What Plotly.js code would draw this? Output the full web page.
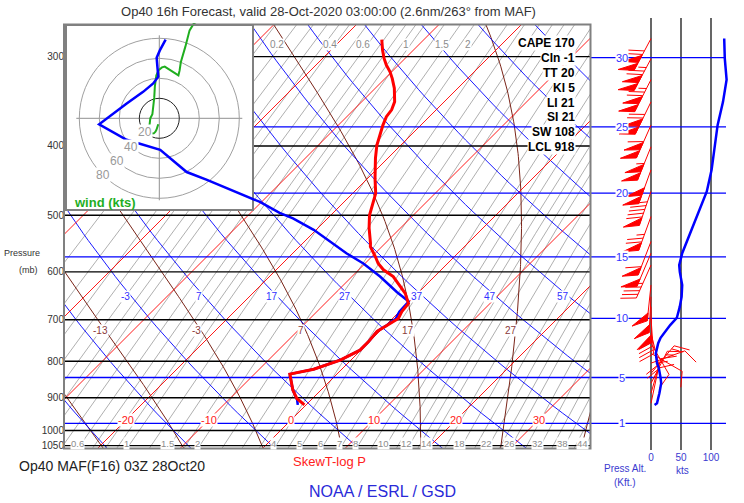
<!DOCTYPE html>
<html><head><meta charset="utf-8">
<script src="https://cdn.plot.ly/plotly-3.0.1.min.js"></script>
<style>html,body{margin:0;padding:0;background:#fff}</style>
</head><body>
<div id="chart" style="width:744px;height:503px"></div>
<script>
// ---------------- DATA ----------------
const tempP = [921,902,878,850,834,821,797,772,751,727,714,697,682,664,643,626,609,596,584,571,553,547,521,500,484,466,444,416,399,386,374,364,356,347,332,322,315,308,302,294,284];
const tempT = [-0.2,-1.9,-3.4,-4.9,-5.7,-3.4,-1.3,-0.1,-0.1,-0.3,0.2,0.7,0.3,0.1,-1.5,-3.2,-5.0,-7.0,-8.4,-9.6,-11.4,-11.8,-13.8,-15.3,-16.2,-17.2,-19.1,-21.5,-22.9,-23.8,-24.6,-25.2,-25.4,-26.0,-27.7,-29.1,-30.2,-31.5,-32.5,-33.7,-35.1];
const dewP = [921,906,878,850,834,821,797,772,751,727,714,697,682,660,640,609,584,565,544,524,505,496,479,466,446,435,405,392,373,349,336,327,320,310,301,294,284];
const dewT = [-1.0,-1.7,-3.4,-4.9,-5.7,-3.4,-1.3,-0.1,-0.1,-0.3,0.1,0.4,0.0,-0.1,-2.7,-6.6,-10.2,-13.5,-16.9,-20.3,-24.2,-26.5,-30.2,-33.7,-39.3,-42.7,-48.6,-53.9,-59.1,-58.3,-57.7,-57.5,-57.7,-59.0,-60.2,-60.7,-61.3];
const windP   = [283,302,323,347,374,401,432,463,502,544,565,587,600,626,650,671,696,712,731,742,755,767,780,792,805,818,832,844,859,872,887,901,916,921];
const windDir = [208,208,207,206,204,202,200,199,200,201,203,204,200,186,183,179,176,172,166,160,150,140,120,90,70,50,40,35,27,20,16,14,12,10];
const windSpd = [122,123,126,120,111,106,101,93,76,60,52,47,48,52,51,48,43,32,21,16,12,10,8,9,10,13,15,16,17,16,14,12,10,6];

const isotherms = [-70,-60,-50,-40,-30,-20,-10,0,10,20,30];
const isothermLabels = [-20,-10,0,10,20,30];
const dryAdiabats = [-23,-13,-3,7,17,27,37,47,57,67,77,87,97,107];
const dryLabels = [-3,7,17,27,37,47,57];
const moistAdiabats = [-23,-13,-3,7,17,27,37];
const moistLabels = [-13,-3,7,17,27];
const mixRatios = [0.1,0.15,0.2,0.25,0.3,0.35,0.4,0.5,0.6,0.7,0.8,0.9,1,1.25,1.5,1.75,2,2.5,3,3.5,4,4.5,5,6,7,8,9,10,11,12,13,14,16,18,20,22,24,26,29,32,35,38,41,44];
const mixLabelsBottom = [0.6,1,1.5,2,4,5,6,7,8,10,12,14,18,22,26,32,38,44];
const mixLabelsTop = [0.2,0.4,0.6,1,1.5,2];
const pressureTicks = [300,400,500,600,700,800,900,1000,1050];
const altKft = [1,5,10,15,20,25,30];
const indexLabels = ['CAPE 170','CIn -1','TT 20','KI 5','LI 21','SI 21','SW 108','LCL 918'];
const hodoRings = [20,40,60,80];
const speedTicks = [0,50,100];

// ---------------- GEOMETRY ----------------
const FONT = 'Arial, "Liberation Sans", sans-serif';
const W = 744, H = 503;
const PXLN = 310.5;
const DEGPX = 8.25;
const P_TOP = 1000*Math.exp((25-430.5)/PXLN);
const P_BOT = 1000*Math.exp((449-430.5)/PXLN);
const P4_TOP = 1000*Math.exp((18-430.5)/PXLN);
const P4_BOT = 1000*Math.exp((450-430.5)/PXLN);
const SKEW = PXLN/DEGPX, XOFF = -10.5/DEGPX;
const X_MIN = (65-291)/DEGPX, X_MAX = (590-291)/DEGPX;
const KTPX = 0.6;
function skewX(T,p){ return T + SKEW*Math.log(1000/p) + XOFF; }
function pxX(x){ return x/W; }
function pxY(y){ return 1 - y/H; }
function yPix(p){ return 430.5 + PXLN*Math.log(p/1000); }
function logspace(a,b,n){ const r=[]; for(let i=0;i<n;i++){ r.push(Math.exp(Math.log(a)+(Math.log(b)-Math.log(a))*i/(n-1))); } return r; }
function es(Tc){ return 6.112*Math.exp(17.67*Tc/(Tc+243.5)); }
function tdFromW(w,p){ const e = p*w/(622+w); const l=Math.log(e/6.112); return 243.5*l/(17.67-l); }
function moistSlope(Tk,p){
  const Rd=287.04, cp=1005.7, Lv=2.501e6, eps=0.622;
  const e=es(Tk-273.15), rs=eps*e/(p-e);
  return ((Rd*Tk+Lv*rs)/p)/(cp+(Lv*Lv*rs*eps)/(Rd*Tk*Tk));
}
function moistLine(tw){
  const up=[], down=[];
  let T=tw+273.15, p=1000;
  while(p>P_TOP-5){ up.push([p,T]); const k1=moistSlope(T,p), k2=moistSlope(T-k1,p-1); T-=0.5*(k1+k2); p-=1; }
  T=tw+273.15; p=1000;
  while(p<P_BOT+5){ down.push([p,T]); const k1=moistSlope(T,p), k2=moistSlope(T+k1,p+1); T+=0.5*(k1+k2); p+=1; }
  return down.reverse().concat(up.slice(1));
}
function altP(kft){ return 1013.25*Math.pow(1-6.8756e-6*kft*1000,5.2559); }
function lg(p){ return Math.log10(p); }

// ---------------- BACKGROUND LINES (xy) ----------------
const traces = [];
function addLines(list, fn, color, width){
  const t={x:[],y:[],type:'scatter',mode:'lines',xaxis:'x',yaxis:'y',hoverinfo:'skip',line:{color:color,width:width}};
  list.forEach(v=>{ fn(v).forEach(pt=>{t.x.push(pt[0]); t.y.push(pt[1]);}); t.x.push(null); t.y.push(null); });
  traces.push(t);
}
const pr = logspace(P_BOT, P_TOP, 60);
addLines(mixRatios, w=>pr.map(p=>[skewX(tdFromW(w,p),p),p]), '#9a9a9a', 0.8);
addLines(moistAdiabats, tw=>moistLine(tw).filter((d,i)=>i%4===0).map(d=>[skewX(d[1]-273.15,d[0]),d[0]]), '#7a2418', 1);
addLines(dryAdiabats, th=>pr.map(p=>[skewX((th+273.15)*Math.pow(p/1000,0.2857)-273.15,p),p]), '#0000ff', 0.9);
addLines(isotherms, T=>[P_BOT,P_TOP].map(p=>[skewX(T,p),p]), '#ff0000', 0.9);
const altMain = altKft.filter(k=>pressureTicks.every(p=>Math.abs(yPix(p)-yPix(altP(k)))>3));
addLines(altMain, k=>[[X_MIN,altP(k)],[X_MAX,altP(k)]], '#0000ff', 1.3);
addLines(pressureTicks, p=>[[X_MIN,p],[X_MAX,p]], '#000000', 1.4);

// ---------------- HODOGRAPH (x2y2) ----------------
const HC = {x:159.3, y:118.3};
const hodoU = windSpd.map((s,i)=>-s*Math.sin(windDir[i]*Math.PI/180));
const hodoV = windSpd.map((s,i)=>-s*Math.cos(windDir[i]*Math.PI/180));
traces.push({x:hodoU.slice().reverse(), y:hodoV.slice().reverse(), type:'scatter', mode:'lines', xaxis:'x2', yaxis:'y2', hoverinfo:'skip', line:{color:'#1fae1f', width:2}});

// ---------------- SOUNDING (x3y3) ----------------
traces.push({x:dewP.map((p,i)=>skewX(dewT[i],p)), y:dewP, type:'scatter', mode:'lines', xaxis:'x3', yaxis:'y3', hoverinfo:'skip', line:{color:'#0000ff', width:2.5}});
traces.push({x:tempP.map((p,i)=>skewX(tempT[i],p)), y:tempP, type:'scatter', mode:'lines', xaxis:'x3', yaxis:'y3', hoverinfo:'skip', line:{color:'#ff0000', width:3}});

// ---------------- WIND PANEL (x4y4) ----------------
const vlines = {x:[],y:[],type:'scatter',mode:'lines',xaxis:'x4',yaxis:'y4',hoverinfo:'skip',line:{color:'#000',width:1.2}};
speedTicks.forEach(s=>{ vlines.x.push(s,s,null); vlines.y.push(P4_BOT,P4_TOP,null); });
traces.push(vlines);
const hl4 = {x:[],y:[],type:'scatter',mode:'lines',xaxis:'x4',yaxis:'y4',hoverinfo:'skip',line:{color:'#0000ff',width:1.3}};
altKft.forEach(k=>{ hl4.x.push(-101.6,125,null); hl4.y.push(altP(k),altP(k),null); });
traces.push(hl4);
const barbL={x:[],y:[],type:'scatter',mode:'lines',xaxis:'x4',yaxis:'y4',hoverinfo:'skip',line:{color:'#ff0000',width:1}};
const barbF={x:[],y:[],type:'scatter',mode:'lines',fill:'toself',fillcolor:'#ff0000',xaxis:'x4',yaxis:'y4',hoverinfo:'skip',line:{color:'#ff0000',width:1}};
const STAFF=36, FEATH=16, ROT=65*Math.PI/180;
let lastY = -1e9;
windP.forEach((p,i)=>{
  const yp = yPix(p);
  if(yp-lastY < 9) return;
  lastY = yp;
  const d=windDir[i]*Math.PI/180;
  const sx=Math.sin(d), sy=-Math.cos(d);
  const fx=sx*Math.cos(ROT)-sy*Math.sin(ROT), fy=sx*Math.sin(ROT)+sy*Math.cos(ROT);
  const toData=(ox,oy)=>[ox/KTPX, p*Math.exp(oy/PXLN)];
  const push=(tr,pts)=>{ pts.forEach(q=>{const r=toData(q[0],q[1]); tr.x.push(r[0]); tr.y.push(r[1]);}); tr.x.push(null); tr.y.push(null); };
  push(barbL, [[0,0],[STAFF*sx,STAFF*sy]]);
  let rem = Math.round(windSpd[i]/5)*5, pos=STAFF;
  while(rem>=50){ const a=[pos*sx,pos*sy], b=[(pos-8)*sx,(pos-8)*sy], c=[a[0]+FEATH*fx,a[1]+FEATH*fy]; push(barbF,[a,c,b,a]); pos-=9; rem-=50; }
  while(rem>=10){ push(barbL,[[pos*sx,pos*sy],[pos*sx+FEATH*fx,pos*sy+FEATH*fy]]); pos-=4; rem-=10; }
  if(rem>=5){ if(pos===STAFF) pos-=4; push(barbL,[[pos*sx,pos*sy],[pos*sx+FEATH*0.5*fx,pos*sy+FEATH*0.5*fy]]); }
});
traces.push(barbL); traces.push(barbF);
traces.push({x:windSpd, y:windP, type:'scatter', mode:'lines', xaxis:'x4', yaxis:'y4', hoverinfo:'skip', line:{color:'#0000ff', width:2.5}});

// ---------------- ANNOTATIONS ----------------
const ann = [];
function A(o){ ann.push(Object.assign({showarrow:false, xanchor:'center', yanchor:'middle', font:{family:FONT,size:10,color:'#333'}}, o)); }
const pIso = 1000*Math.exp((420-430.5)/PXLN);
isothermLabels.forEach(T=>A({xref:'x',yref:'y',x:skewX(T,pIso),y:lg(pIso),text:String(T),bgcolor:'#fff',borderpad:0,font:{family:FONT,size:11,color:'#ff2020'}}));
const pDry = 1000*Math.exp((296-430.5)/PXLN);
dryLabels.forEach(th=>A({xref:'x',yref:'y',x:skewX((th+273.15)*Math.pow(pDry/1000,0.2857)-273.15,pDry),xshift:-5,y:lg(pDry),text:String(th),bgcolor:'#fff',borderpad:0,font:{family:FONT,size:10,color:'#3030ff'}}));
const pMoist = 1000*Math.exp((330.7-430.5)/PXLN);
moistLabels.forEach(tw=>{ const ml=moistLine(tw); let best=ml[0]; ml.forEach(d=>{ if(Math.abs(d[0]-pMoist)<Math.abs(best[0]-pMoist)) best=d; });
  A({xref:'x',yref:'y',x:skewX(best[1]-273.15,best[0]),xshift:-5,y:lg(pMoist),text:String(tw),bgcolor:'#fff',borderpad:0,font:{family:FONT,size:10,color:'#8b3a3a'}}); });
const pMixB = 1000*Math.exp((443-430.5)/PXLN), pMixT = 1000*Math.exp((45-430.5)/PXLN);
mixLabelsBottom.forEach(w=>A({xref:'x',yref:'y',x:skewX(tdFromW(w,pMixB),pMixB),xshift:-4,y:lg(pMixB),text:String(w),bgcolor:'#fff',borderpad:0,font:{family:FONT,size:9.5,color:'#8c8c8c'}}));
mixLabelsTop.forEach(w=>A({xref:'x',yref:'y',x:skewX(tdFromW(w,pMixT),pMixT),xshift:-4,y:lg(pMixT),text:String(w),bgcolor:'#fff',borderpad:0,font:{family:FONT,size:10,color:'#8c8c8c'}}));
indexLabels.forEach((t,i)=>A({xref:'paper',yref:'paper',x:pxX(576),xanchor:'right',y:pxY(42.7+i*14.95),text:'<b>'+t+'</b>',bgcolor:'#fff',borderpad:0,font:{family:FONT,size:12,color:'#000'}}));
altKft.forEach(k=>A({xref:'x4',yref:'y4',x:(621.7-651)/KTPX,y:lg(altP(k)),text:String(k),bgcolor:'#fff',borderpad:0,font:{family:FONT,size:11,color:'#3333ff'}}));
hodoRings.forEach(r=>A({xref:'x2',yref:'y2',x:-r*0.7071,y:-r*0.7071,text:String(r),bgcolor:'#fff',borderpad:0,font:{family:FONT,size:12,color:'#999'}}));
A({xref:'paper',yref:'paper',x:pxX(105),y:pxY(203),text:'<b>wind (kts)</b>',font:{family:FONT,size:13,color:'#1fae1f'}});
A({xref:'paper',yref:'paper',x:pxX(22),y:pxY(253),text:'Pressure',font:{family:FONT,size:9,color:'#333'}});
A({xref:'paper',yref:'paper',x:pxX(28),y:pxY(270),text:'(mb)',font:{family:FONT,size:9,color:'#333'}});
A({xref:'paper',yref:'paper',x:pxX(17),xanchor:'left',y:pxY(466),text:'Op40 MAF(F16) 03Z 28Oct20',font:{family:FONT,size:14,color:'#222'}});
A({xref:'paper',yref:'paper',x:pxX(329),y:pxY(461),text:'SkewT-log P',font:{family:FONT,size:13,color:'#ff2020'}});
A({xref:'paper',yref:'paper',x:pxX(382),y:pxY(491),text:'NOAA / ESRL / GSD',font:{family:FONT,size:16,color:'#2a2ad8'}});
A({xref:'paper',yref:'paper',x:pxX(625),y:pxY(468),text:'Press Alt.',font:{family:FONT,size:10,color:'#3a3ad0'}});
A({xref:'paper',yref:'paper',x:pxX(625),y:pxY(482),text:'(Kft.)',font:{family:FONT,size:10,color:'#3a3ad0'}});
A({xref:'paper',yref:'paper',x:pxX(682),y:pxY(470),text:'kts',font:{family:FONT,size:10,color:'#3a3ad0'}});

// ---------------- SHAPES ----------------
const shapes = [];
shapes.push({type:'rect',xref:'x2',yref:'y2',x0:66-HC.x,x1:253-HC.x,y0:HC.y-210,y1:HC.y-25,fillcolor:'#fff',line:{color:'#808080',width:2},layer:'below'});
shapes.push({type:'line',xref:'x2',yref:'y2',x0:-83,x1:83,y0:0,y1:0,line:{color:'#909090',width:1},layer:'below'});
shapes.push({type:'line',xref:'x2',yref:'y2',x0:0,x1:0,y0:-82,y1:83,line:{color:'#909090',width:1},layer:'below'});
hodoRings.forEach(r=>shapes.push({type:'circle',xref:'x2',yref:'y2',x0:-r,x1:r,y0:-r,y1:r,line:{color:r===20?'#222':'#a0a0a0',width:1},layer:'below'}));
shapes.push({type:'rect',xref:'paper',yref:'paper',x0:pxX(64),x1:pxX(590.5),y0:pxY(448.5),y1:pxY(24.5),line:{color:'#808080',width:2},layer:'above'});

// ---------------- LAYOUT ----------------
const hide = {showgrid:false, zeroline:false, showline:false, ticks:'', showticklabels:false, fixedrange:true};
const mainDomX = [pxX(65), pxX(590)], mainDomY = [pxY(449), pxY(25)];
const layout = {
  width:W, height:H, margin:{l:0,r:0,t:0,b:0,pad:0},
  paper_bgcolor:'#fff', plot_bgcolor:'rgba(0,0,0,0)', showlegend:false,
  font:{family:FONT},
  title:{text:'Op40 16h Forecast, valid 28-Oct-2020 03:00:00 (2.6nm/263° from MAF)', x:pxX(328.5), xanchor:'center', y:pxY(11), yanchor:'middle', xref:'paper', yref:'paper', font:{family:FONT,size:13,color:'#333'}},
  xaxis: Object.assign({}, hide, {domain:mainDomX, range:[X_MIN,X_MAX], anchor:'y'}),
  yaxis: Object.assign({}, hide, {domain:mainDomY, type:'log', range:[lg(P_BOT),lg(P_TOP)], anchor:'x', showticklabels:true, tickvals:pressureTicks, ticktext:pressureTicks.map(String), tickfont:{family:FONT,size:10,color:'#333'}}),
  xaxis2: Object.assign({}, hide, {domain:[pxX(64),pxX(255)], range:[64-HC.x,255-HC.x], anchor:'y2'}),
  yaxis2: Object.assign({}, hide, {domain:[pxY(212),pxY(23)], range:[HC.y-212,HC.y-23], anchor:'x2'}),
  xaxis3: Object.assign({}, hide, {domain:mainDomX, range:[X_MIN,X_MAX], anchor:'y3'}),
  yaxis3: Object.assign({}, hide, {domain:mainDomY, type:'log', range:[lg(P_BOT),lg(P_TOP)], anchor:'x3'}),
  xaxis4: Object.assign({}, hide, {domain:[pxX(590),pxX(730)], range:[(590-651)/KTPX,(730-651)/KTPX], anchor:'y4', showticklabels:true, tickvals:speedTicks, ticktext:speedTicks.map(String), tickfont:{family:FONT,size:10,color:'#3a3ad0'}}),
  yaxis4: Object.assign({}, hide, {domain:[pxY(450),pxY(18)], type:'log', range:[lg(P4_BOT),lg(P4_TOP)], anchor:'x4'}),
  annotations: ann, shapes: shapes
};
Plotly.newPlot('chart', traces, layout, {staticPlot:true, displayModeBar:false});
</script>
</body></html>
